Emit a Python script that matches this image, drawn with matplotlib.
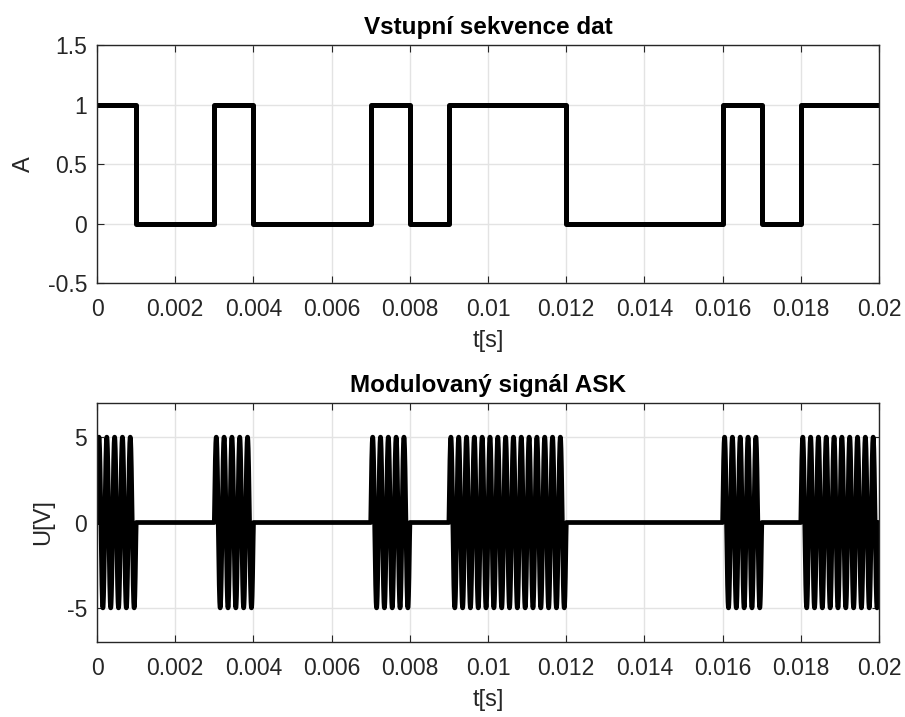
'''ASK modulation - input bit sequence and modulated signal.'''

import matplotlib
matplotlib.use('Agg')
import matplotlib.pyplot as plt
import numpy as np

plt.rcParams['font.family'] = ['Liberation Sans', 'DejaVu Sans']

# data bits, one per 1 ms
bits = [1, 0, 0, 1, 0, 0, 0, 1, 0, 1, 1, 1, 0, 0, 0, 0, 1, 0, 1, 1]
Tb = 0.001          # bit period [s]
fc = 5000           # carrier frequency [Hz]
Uc = 5              # carrier amplitude [V]
xticks = [0, 0.002, 0.004, 0.006, 0.008, 0.01, 0.012, 0.014, 0.016, 0.018, 0.02]
xticklabels = ['0', '0.002', '0.004', '0.006', '0.008', '0.01', '0.012',
               '0.014', '0.016', '0.018', '0.02']

# bit edges for the stairs plot
tb = np.arange(len(bits) + 1) * Tb
yb = bits + [bits[-1]]

# modulated signal
t = np.linspace(0, len(bits) * Tb, 20001)
idx = np.minimum((t / Tb).astype(int), len(bits) - 1)
s = np.array(bits)[idx] * Uc * np.sin(2 * np.pi * fc * t)

fig = plt.figure(figsize=(9.05, 7.17), dpi=100)
ax1 = fig.add_axes([0.1072, 0.6053, 0.8641, 0.3319])
ax2 = fig.add_axes([0.1072, 0.1046, 0.8641, 0.3333])

def style(ax):
    ax.grid(True, color='#e3e3e3', linewidth=1)
    ax.set_axisbelow(True)
    for sp in ax.spines.values():
        sp.set_color('#262626')
        sp.set_linewidth(1)
    ax.tick_params(direction='in', top=True, right=True, length=5,
                   labelsize=16.5, colors='#262626')
    ax.tick_params(axis='x', pad=10.5)
    ax.tick_params(axis='y', pad=7)
    ax.set_xlim(0, 0.02)
    ax.set_xticks(xticks)
    ax.set_xticklabels(xticklabels)

######## top: input data ########
ax1.step(tb, yb, where='post', color='k', linewidth=3.6)
style(ax1)
ax1.set_ylim(-0.5, 1.5)
ax1.set_yticks([-0.5, 0, 0.5, 1, 1.5])
ax1.set_yticklabels(['-0.5', '0', '0.5', '1', '1.5'])
ax1.set_title('Vstupní sekvence dat', fontsize=17.5, fontweight='bold', pad=8)
ax1.set_xlabel('t[s]', fontsize=17, color='#262626', labelpad=7)
ax1.set_ylabel('A', fontsize=17, color='#262626', labelpad=9)

######## bottom: ASK signal ########
ax2.plot(t, s, color='k', linewidth=3.4)
style(ax2)
ax2.set_ylim(-7, 7)
ax2.set_yticks([-5, 0, 5])
ax2.set_yticklabels(['-5', '0', '5'])
ax2.set_title('Modulovaný signál ASK', fontsize=17.5, fontweight='bold', pad=8)
ax2.set_xlabel('t[s]', fontsize=17, color='#262626', labelpad=7)
ax2.set_ylabel('U[V]', fontsize=17, color='#262626', labelpad=9)

fig.savefig('out.png', dpi=100)
